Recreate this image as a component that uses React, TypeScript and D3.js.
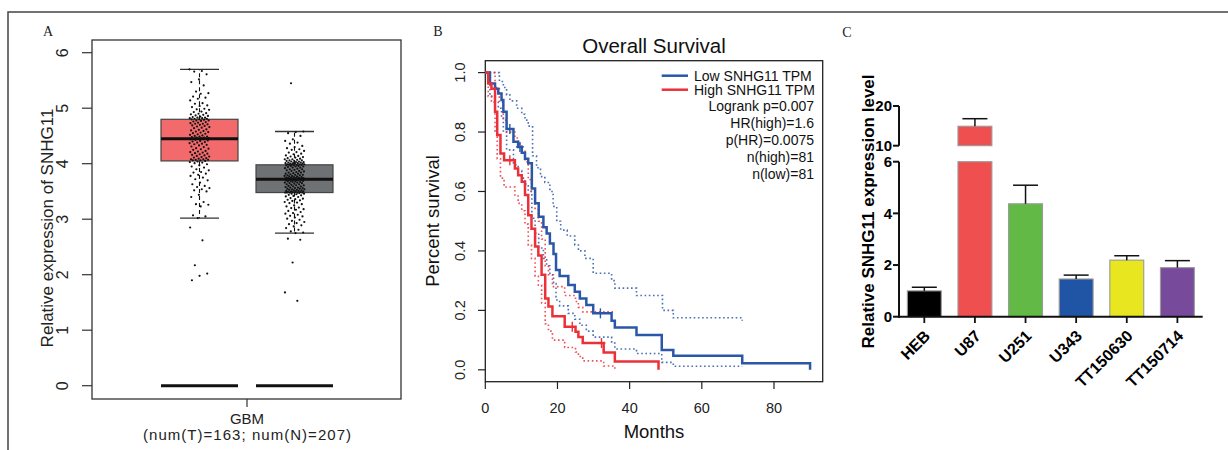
import React from 'react';
import * as d3 from 'd3';

// ---------------- Panel A: boxplot ----------------
const A_GROUPS = ['Tumor', 'Normal'];
const A_Q1 = [4.05, 3.48];
const A_MED = [4.45, 3.72];
const A_Q3 = [4.8, 3.98];
const A_WLO = [3.02, 2.75];
const A_WHI = [5.7, 4.58];
const A_FILL = ['#f26a6c', '#6f7274'];
const A_TICKS = [0, 1, 2, 3, 4, 5, 6];

const TUMOR = [
  5.70, 5.67, 5.66, 5.61, 5.52, 5.47, 5.41, 5.30, 5.27, 5.26, 5.21, 5.19, 5.17, 5.14, 5.09, 5.08, 5.05, 5.04, 5.02, 4.99,
  4.98, 4.97, 4.94, 4.93, 4.91, 4.90, 4.89, 4.88, 4.87, 4.86, 4.85, 4.84, 4.83, 4.83, 4.82, 4.82, 4.81, 4.81, 4.80, 4.80,
  4.79, 4.78, 4.78, 4.77, 4.76, 4.75, 4.74, 4.73, 4.72, 4.72, 4.71, 4.70, 4.69, 4.68, 4.67, 4.66, 4.65, 4.64, 4.62, 4.61,
  4.60, 4.59, 4.58, 4.57, 4.56, 4.55, 4.54, 4.53, 4.52, 4.51, 4.50, 4.49, 4.49, 4.48, 4.47, 4.47, 4.46, 4.46, 4.45, 4.45, 4.45,
  4.44, 4.44, 4.43, 4.42, 4.41, 4.40, 4.39, 4.38, 4.37, 4.36, 4.35, 4.34, 4.33, 4.31, 4.30, 4.28, 4.27, 4.26, 4.25, 4.23,
  4.22, 4.21, 4.20, 4.19, 4.18, 4.17, 4.16, 4.15, 4.14, 4.13, 4.12, 4.11, 4.10, 4.09, 4.08, 4.08, 4.07, 4.07, 4.06, 4.06, 4.05,
  4.04, 4.03, 4.02, 4.01, 3.99, 3.97, 3.95, 3.93, 3.90, 3.88, 3.85, 3.84, 3.82, 3.80, 3.78, 3.75, 3.72, 3.70, 3.66, 3.63,
  3.60, 3.58, 3.56, 3.54, 3.52, 3.50, 3.44, 3.40, 3.31, 3.27, 3.26, 3.23, 3.07, 3.05, 3.02, 2.85, 2.62, 2.17, 2.02, 1.98, 1.90,
];

const NORMAL = [
  5.45, 4.58, 4.57, 4.55, 4.50, 4.44, 4.41, 4.38, 4.36, 4.32, 4.30, 4.28, 4.26, 4.25, 4.23, 4.21, 4.20, 4.18, 4.17, 4.15,
  4.14, 4.13, 4.12, 4.11, 4.10, 4.09, 4.08, 4.08, 4.07, 4.06, 4.06, 4.05, 4.05, 4.04, 4.04, 4.03, 4.03, 4.02, 4.02, 4.01,
  4.01, 4.01, 4.00, 4.00, 4.00, 3.99, 3.99, 3.99, 3.99, 3.98, 3.98, 3.98,
  3.97, 3.97, 3.96, 3.96, 3.95, 3.95, 3.94, 3.93, 3.93, 3.92, 3.91, 3.90, 3.90, 3.89, 3.88, 3.87, 3.87, 3.86, 3.85, 3.84,
  3.84, 3.83, 3.82, 3.82, 3.81, 3.80, 3.80, 3.79, 3.79, 3.78, 3.78, 3.77, 3.77, 3.76, 3.76, 3.75, 3.75, 3.75, 3.74, 3.74,
  3.74, 3.73, 3.73, 3.73, 3.73, 3.72, 3.72, 3.72, 3.72, 3.72, 3.72, 3.72,
  3.71, 3.71, 3.71, 3.70, 3.70, 3.70, 3.69, 3.69, 3.68, 3.68, 3.67, 3.67, 3.66, 3.66, 3.65, 3.65, 3.64, 3.63, 3.63, 3.62,
  3.61, 3.61, 3.60, 3.59, 3.59, 3.58, 3.57, 3.57, 3.56, 3.56, 3.55, 3.55, 3.54, 3.54, 3.53, 3.53, 3.52, 3.52, 3.51, 3.51,
  3.50, 3.50, 3.50, 3.49, 3.49, 3.49, 3.48, 3.48, 3.48, 3.48, 3.48, 3.48,
  3.47, 3.46, 3.46, 3.45, 3.44, 3.43, 3.42, 3.41, 3.40, 3.38, 3.37, 3.36, 3.35, 3.34, 3.33, 3.31, 3.30, 3.29, 3.27, 3.25,
  3.23, 3.21, 3.20, 3.18, 3.17, 3.15, 3.13, 3.11, 3.10, 3.08, 3.06, 3.05, 3.03, 3.01, 2.99, 2.97, 2.95, 2.93, 2.91, 2.89,
  2.87, 2.84, 2.81, 2.78, 2.76, 2.75, 2.65, 2.63, 2.22, 1.68, 1.53,
];

// ---------------- Panel B: Kaplan-Meier ----------------
const B_XTICKS = [0, 20, 40, 60, 80];
const B_YTICKS = [0, 0.2, 0.4, 0.6, 0.8, 1.0];
const LOW_STEPS = [
  [0, 1], [1.3, 0.963], [2.7, 0.946], [3.6, 0.93], [4.5, 0.908], [5.0, 0.868], [5.9, 0.81], [7.8, 0.767], [9.1, 0.75],
  [10.1, 0.73], [11.0, 0.71], [11.9, 0.695], [12.9, 0.61], [13.8, 0.56], [14.8, 0.515], [16.1, 0.48], [17.0, 0.459],
  [17.9, 0.425], [18.9, 0.39], [19.6, 0.336], [20.6, 0.316], [23.0, 0.285], [24.8, 0.263], [26.2, 0.24], [28.0, 0.218],
  [29.9, 0.19], [35.0, 0.165], [35.9, 0.142], [41.9, 0.117], [48.9, 0.067], [52.1, 0.047], [71.2, 0.022], [90, 0],
];
const HIGH_STEPS = [
  [0, 1], [0.8, 0.963], [1.7, 0.946], [2.7, 0.868], [3.3, 0.79], [4.2, 0.728], [5.2, 0.705], [8.2, 0.677], [9.1, 0.655],
  [10.1, 0.633], [11.0, 0.588], [11.9, 0.52], [12.8, 0.475], [13.8, 0.415], [14.7, 0.385], [15.6, 0.32], [16.6, 0.24],
  [17.5, 0.213], [18.6, 0.18], [22.0, 0.145], [25.0, 0.128], [25.8, 0.11], [27.0, 0.09], [32.8, 0.058], [35.9, 0.028], [48, 0],
];
const LOW_UPPER = [
  [0, 1], [3.9, 0.97], [5.0, 0.95], [5.9, 0.925], [6.8, 0.905], [8.7, 0.88], [10.1, 0.86], [11.0, 0.84], [11.9, 0.82],
  [13.1, 0.72], [14.2, 0.68], [15.3, 0.65], [16.5, 0.63], [17.9, 0.6], [18.8, 0.55], [19.8, 0.5], [20.9, 0.47], [22.7, 0.45],
  [24.8, 0.42], [25.8, 0.4], [27.6, 0.375], [29.9, 0.325], [35.0, 0.3], [35.9, 0.275], [41.9, 0.25], [49.1, 0.2], [52.1, 0.175],
  [71.2, 0.165],
];
const LOW_LOWER = [
  [0, 1], [1.3, 0.92], [2.7, 0.9], [3.6, 0.88], [4.5, 0.85], [5.0, 0.8], [5.9, 0.74], [7.8, 0.69], [9.1, 0.67], [10.1, 0.645],
  [11.0, 0.625], [11.9, 0.6], [12.9, 0.51], [13.8, 0.46], [14.8, 0.41], [16.1, 0.375], [17.0, 0.35], [17.9, 0.32], [18.9, 0.29],
  [19.6, 0.235], [20.6, 0.215], [23.0, 0.19], [24.8, 0.17], [26.2, 0.15], [28.0, 0.13], [29.9, 0.11], [35.0, 0.09], [35.9, 0.07],
  [41.9, 0.055], [48.9, 0.025], [52.1, 0.012], [71.2, 0.012],
];
const HIGH_UPPER = [
  [0, 1], [2.7, 0.95], [3.9, 0.9], [5.0, 0.84], [5.9, 0.8], [8.2, 0.78], [9.1, 0.76], [10.1, 0.74], [11.0, 0.7], [11.9, 0.64],
  [12.8, 0.6], [13.8, 0.54], [14.7, 0.5], [15.6, 0.44], [16.6, 0.35], [17.5, 0.32], [18.6, 0.28], [22.0, 0.25], [25.0, 0.23],
  [25.8, 0.21], [27.0, 0.195], [35.9, 0.195],
];
const HIGH_LOWER = [
  [0, 1], [0.8, 0.92], [1.7, 0.9], [2.7, 0.8], [3.3, 0.71], [4.2, 0.645], [5.2, 0.615], [8.2, 0.585], [9.1, 0.56], [10.1, 0.535],
  [11.0, 0.49], [11.9, 0.42], [12.8, 0.375], [13.8, 0.315], [14.7, 0.285], [15.6, 0.225], [16.6, 0.155], [17.5, 0.13],
  [18.6, 0.1], [22.0, 0.075], [25.0, 0.06], [25.8, 0.045], [27.0, 0.03], [32.8, 0.013], [35.9, 0],
];
const LOW_CENSOR = [[6.8, 0.81], [9.6, 0.75], [31.9, 0.19]];
const HIGH_CENSOR = [[6.8, 0.705], [24.1, 0.145], [32.2, 0.09]];
const B_STATS = ['Logrank p=0.007', 'HR(high)=1.6', 'p(HR)=0.0075', 'n(high)=81', 'n(low)=81'];
const B_LEGEND = ['Low SNHG11 TPM', 'High SNHG11 TPM'];

// ---------------- Panel C: bar chart with broken axis ----------------
const C_CATS = ['HEB', 'U87', 'U251', 'U343', 'TT150630', 'TT150714'];
const C_MEANS = [1.0, 14.9, 4.37, 1.46, 2.19, 1.9];
const C_ERRTOP = [1.14, 16.8, 5.09, 1.61, 2.36, 2.17];
const C_COLORS = ['#000000', '#ef4f4f', '#62b946', '#2055a6', '#e8e61e', '#784a9c'];
const C_LOW_TICKS = [0, 2, 4, 6];
const C_HIGH_TICKS = [10, 20];

const SANS = '"Liberation Sans", Arial, Helvetica, sans-serif';
const SERIF = '"Liberation Serif", "Times New Roman", serif';
const BLUE = '#2a57a8';
const RED = '#ec3038';

export default function App() {
  // ---- Panel A scales
  const yA = d3.scaleLinear().domain([0, 6]).range([385.7, 52.7]);
  const xA = d3.scalePoint<string>().domain(A_GROUPS).range([199.5, 294.5]);
  const boxW = 77;
  const capW = 39;
  const jit = (i: number) => (((i * 0.6180339887) % 1) - 0.5) * 20;
  const pointSets = [TUMOR, NORMAL];

  // ---- Panel B scales
  const xB = d3.scaleLinear().domain([0, 93.5]).range([485.3, 822.7]);
  const yB = d3.scaleLinear().domain([-0.04, 1.04]).range([381.7, 60.7]);
  const step = d3
    .line<number[]>()
    .x((d) => xB(d[0]))
    .y((d) => yB(d[1]))
    .curve(d3.curveStepAfter);

  // ---- Panel C scales
  const xC = d3.scaleBand<string>().domain(C_CATS).range([899, 1202.7]).paddingInner(0.33).paddingOuter(0.165);
  const yCLow = d3.scaleLinear().domain([0, 6]).range([316.7, 161.7]);
  const yCHigh = d3.scaleLinear().domain([10, 20]).range([145.7, 106]);
  const yC = (v: number) => (v <= 6 ? yCLow(v) : yCHigh(v));
  const bw = xC.bandwidth();

  return (
    <svg width={1228} height={450} style={{ position: 'absolute', left: 0, top: 0, background: '#fff' }}>
      <rect x={0} y={0} width={1228} height={450} fill="#fff" />
      {/* outer frame */}
      <path d="M8,450 L8,12 L1228,12" fill="none" stroke="#444" strokeWidth={1.5} />

      {/* ================= Panel A ================= */}
      <g>
        <text x={48} y={36} fontFamily={SERIF} fontSize={14} textAnchor="middle" fill="#222">A</text>
        <rect x={92} y={40} width={309} height={359} fill="none" stroke="#333" strokeWidth={1.3} />
        {A_TICKS.map((t) => (
          <g key={t}>
            <line x1={82} x2={92} y1={yA(t)} y2={yA(t)} stroke="#333" strokeWidth={1.2} />
            <text
              transform={`translate(62,${yA(t)}) rotate(-90)`}
              dy="0.35em"
              textAnchor="middle"
              fontFamily={SANS}
              fontSize={16}
              fill="#222"
            >
              {t}
            </text>
          </g>
        ))}
        <text
          transform="translate(47,228) rotate(-90)"
          dy="0.35em"
          textAnchor="middle"
          fontFamily={SANS}
          fontSize={17}
          fill="#222"
        >
          Relative expression of SNHG11
        </text>
        {A_GROUPS.map((g, i) => {
          const cx = xA(g) as number;
          return (
            <g key={g}>
              <line x1={cx} x2={cx} y1={yA(A_Q3[i])} y2={yA(A_WHI[i])} stroke="#111" strokeWidth={1.1} strokeDasharray="4,3" />
              <line x1={cx} x2={cx} y1={yA(A_Q1[i])} y2={yA(A_WLO[i])} stroke="#111" strokeWidth={1.1} strokeDasharray="4,3" />
              <line x1={cx - capW / 2} x2={cx + capW / 2} y1={yA(A_WHI[i])} y2={yA(A_WHI[i])} stroke="#333" strokeWidth={1.3} />
              <line x1={cx - capW / 2} x2={cx + capW / 2} y1={yA(A_WLO[i])} y2={yA(A_WLO[i])} stroke="#333" strokeWidth={1.3} />
              <rect
                x={cx - boxW / 2}
                y={yA(A_Q3[i])}
                width={boxW}
                height={yA(A_Q1[i]) - yA(A_Q3[i])}
                fill={A_FILL[i]}
                stroke="#444"
                strokeWidth={1.2}
              />
              <line x1={cx - boxW / 2} x2={cx + boxW / 2} y1={yA(A_MED[i])} y2={yA(A_MED[i])} stroke="#111" strokeWidth={2.8} />
              <line x1={cx - boxW / 2} x2={cx + boxW / 2} y1={yA(0)} y2={yA(0)} stroke="#111" strokeWidth={3} />
              {pointSets[i].map((v, k) => (
                <circle key={k} cx={cx + jit(k + i * 7)} cy={yA(v)} r={1.1} fill="#111" />
              ))}
            </g>
          );
        })}
        <line x1={247} x2={247} y1={399} y2={407} stroke="#333" strokeWidth={1.2} />
        <text x={247} y={423.5} textAnchor="middle" fontFamily={SANS} fontSize={15} fill="#222">GBM</text>
        <text
          x={247}
          y={440}
          textAnchor="middle"
          fontFamily={SANS}
          fontSize={15}
          fill="#222"
          textLength={208}
          lengthAdjust="spacing"
        >
          (num(T)=163; num(N)=207)
        </text>
      </g>

      {/* ================= Panel B ================= */}
      <g>
        <text x={438} y={36} fontFamily={SERIF} fontSize={14} textAnchor="middle" fill="#222">B</text>
        <text x={654} y={53.3} textAnchor="middle" fontFamily={SANS} fontSize={20.5} fill="#111">Overall Survival</text>
        <rect x={485.3} y={60.7} width={337.4} height={321} fill="none" stroke="#222" strokeWidth={1.3} />
        {B_YTICKS.map((t) => (
          <g key={t}>
            <line x1={478} x2={485.3} y1={yB(t)} y2={yB(t)} stroke="#222" strokeWidth={1.2} />
            <text
              transform={`translate(460,${yB(t)}) rotate(-90)`}
              dy="0.35em"
              textAnchor="middle"
              fontFamily={SANS}
              fontSize={14.5}
              fill="#222"
            >
              {t.toFixed(1)}
            </text>
          </g>
        ))}
        {B_XTICKS.map((t) => (
          <g key={t}>
            <line x1={xB(t)} x2={xB(t)} y1={381.7} y2={389} stroke="#222" strokeWidth={1.2} />
            <text x={xB(t)} y={413.3} textAnchor="middle" fontFamily={SANS} fontSize={14.5} fill="#222">
              {t}
            </text>
          </g>
        ))}
        <text
          transform="translate(433,221) rotate(-90)"
          dy="0.35em"
          textAnchor="middle"
          fontFamily={SANS}
          fontSize={18.5}
          fill="#111"
        >
          Percent survival
        </text>
        <text x={654} y={438.3} textAnchor="middle" fontFamily={SANS} fontSize={18.5} fill="#111">Months</text>

        {/* confidence bands */}
        <path d={step(LOW_UPPER) || ''} fill="none" stroke={BLUE} strokeWidth={1.6} strokeDasharray="1.6,2.6" opacity={0.85} />
        <path d={step(LOW_LOWER) || ''} fill="none" stroke={BLUE} strokeWidth={1.6} strokeDasharray="1.6,2.6" opacity={0.85} />
        <path d={step(HIGH_UPPER) || ''} fill="none" stroke={RED} strokeWidth={1.6} strokeDasharray="1.6,2.6" opacity={0.85} />
        <path d={step(HIGH_LOWER) || ''} fill="none" stroke={RED} strokeWidth={1.6} strokeDasharray="1.6,2.6" opacity={0.85} />
        {/* survival curves */}
        <path d={step(LOW_STEPS) || ''} fill="none" stroke={BLUE} strokeWidth={2.5} />
        <path d={step(HIGH_STEPS) || ''} fill="none" stroke={RED} strokeWidth={2.5} />
        {LOW_CENSOR.map((c, i) => (
          <g key={'lc' + i} stroke={BLUE} strokeWidth={1.4}>
            <line x1={xB(c[0])} x2={xB(c[0])} y1={yB(c[1]) - 5} y2={yB(c[1]) + 5} />
            <line x1={xB(c[0]) - 4} x2={xB(c[0]) + 4} y1={yB(c[1])} y2={yB(c[1])} />
          </g>
        ))}
        {HIGH_CENSOR.map((c, i) => (
          <g key={'hc' + i} stroke={RED} strokeWidth={1.4}>
            <line x1={xB(c[0])} x2={xB(c[0])} y1={yB(c[1]) - 5} y2={yB(c[1]) + 5} />
            <line x1={xB(c[0]) - 4} x2={xB(c[0]) + 4} y1={yB(c[1])} y2={yB(c[1])} />
          </g>
        ))}
        {/* legend */}
        {B_LEGEND.map((l, i) => (
          <g key={l}>
            <line x1={661.7} x2={688} y1={75.7 + i * 14} y2={75.7 + i * 14} stroke={i === 0 ? BLUE : RED} strokeWidth={2.5} />
            <text x={694} y={80.5 + i * 14} fontFamily={SANS} fontSize={14} fill="#111">{l}</text>
          </g>
        ))}
        {B_STATS.map((s, i) => (
          <text key={s} x={814} y={111.3 + i * 16.8} textAnchor="end" fontFamily={SANS} fontSize={14} fill="#111">
            {s}
          </text>
        ))}
      </g>

      {/* ================= Panel C ================= */}
      <g>
        <text x={847} y={37} fontFamily={SERIF} fontSize={14} textAnchor="middle" fill="#222">C</text>
        <text
          transform="translate(868,211.5) rotate(-90)"
          dy="0.35em"
          textAnchor="middle"
          fontFamily={SANS}
          fontWeight="bold"
          fontSize={17}
          fill="#000"
        >
          Relative SNHG11 expression level
        </text>
        {/* bars */}
        {C_CATS.map((c, i) => {
          const x0 = xC(c) as number;
          const m = C_MEANS[i];
          const cx = x0 + bw / 2;
          return (
            <g key={c}>
              {m <= 6 ? (
                <rect x={x0} y={yC(m)} width={bw} height={yCLow(0) - yC(m)} fill={C_COLORS[i]} stroke="#9a9a9a" strokeWidth={1.1} />
              ) : (
                <g>
                  <rect x={x0} y={yCLow(6)} width={bw} height={yCLow(0) - yCLow(6)} fill={C_COLORS[i]} stroke="#9a9a9a" strokeWidth={1.1} />
                  <rect x={x0} y={yCHigh(m)} width={bw} height={yCHigh(10) - yCHigh(m)} fill={C_COLORS[i]} stroke="#9a9a9a" strokeWidth={1.1} />
                </g>
              )}
              <line x1={cx} x2={cx} y1={yC(m)} y2={yC(C_ERRTOP[i])} stroke="#111" strokeWidth={1.5} />
              <line x1={cx - 12.5} x2={cx + 12.5} y1={yC(C_ERRTOP[i])} y2={yC(C_ERRTOP[i])} stroke="#111" strokeWidth={1.5} />
              <line x1={cx} x2={cx} y1={316.7} y2={323} stroke="#111" strokeWidth={1.8} />
              <text
                transform={`translate(${cx + 3},${333}) rotate(-45)`}
                dy="0.35em"
                textAnchor="end"
                fontFamily={SANS}
                fontWeight="bold"
                fontSize={16}
                fill="#000"
              >
                {c}
              </text>
            </g>
          );
        })}
        {/* axes */}
        <line x1={899} x2={899} y1={yCLow(6)} y2={yCLow(0) + 1} stroke="#111" strokeWidth={2} />
        <line x1={899} x2={899} y1={yCHigh(20)} y2={yCHigh(10)} stroke="#111" strokeWidth={2} />
        <line x1={898} x2={1202.7} y1={316.7} y2={316.7} stroke="#111" strokeWidth={2} />
        {C_LOW_TICKS.map((t) => (
          <g key={'l' + t}>
            <line x1={893} x2={899} y1={yCLow(t)} y2={yCLow(t)} stroke="#111" strokeWidth={2} />
            <text x={892} y={yCLow(t)} dy="0.35em" textAnchor="end" fontFamily={SANS} fontWeight="bold" fontSize={15} fill="#000">
              {t}
            </text>
          </g>
        ))}
        {C_HIGH_TICKS.map((t) => (
          <g key={'h' + t}>
            <line x1={893} x2={899} y1={yCHigh(t)} y2={yCHigh(t)} stroke="#111" strokeWidth={2} />
            <text x={892} y={yCHigh(t)} dy="0.35em" textAnchor="end" fontFamily={SANS} fontWeight="bold" fontSize={15} fill="#000">
              {t}
            </text>
          </g>
        ))}
      </g>
    </svg>
  );
}
